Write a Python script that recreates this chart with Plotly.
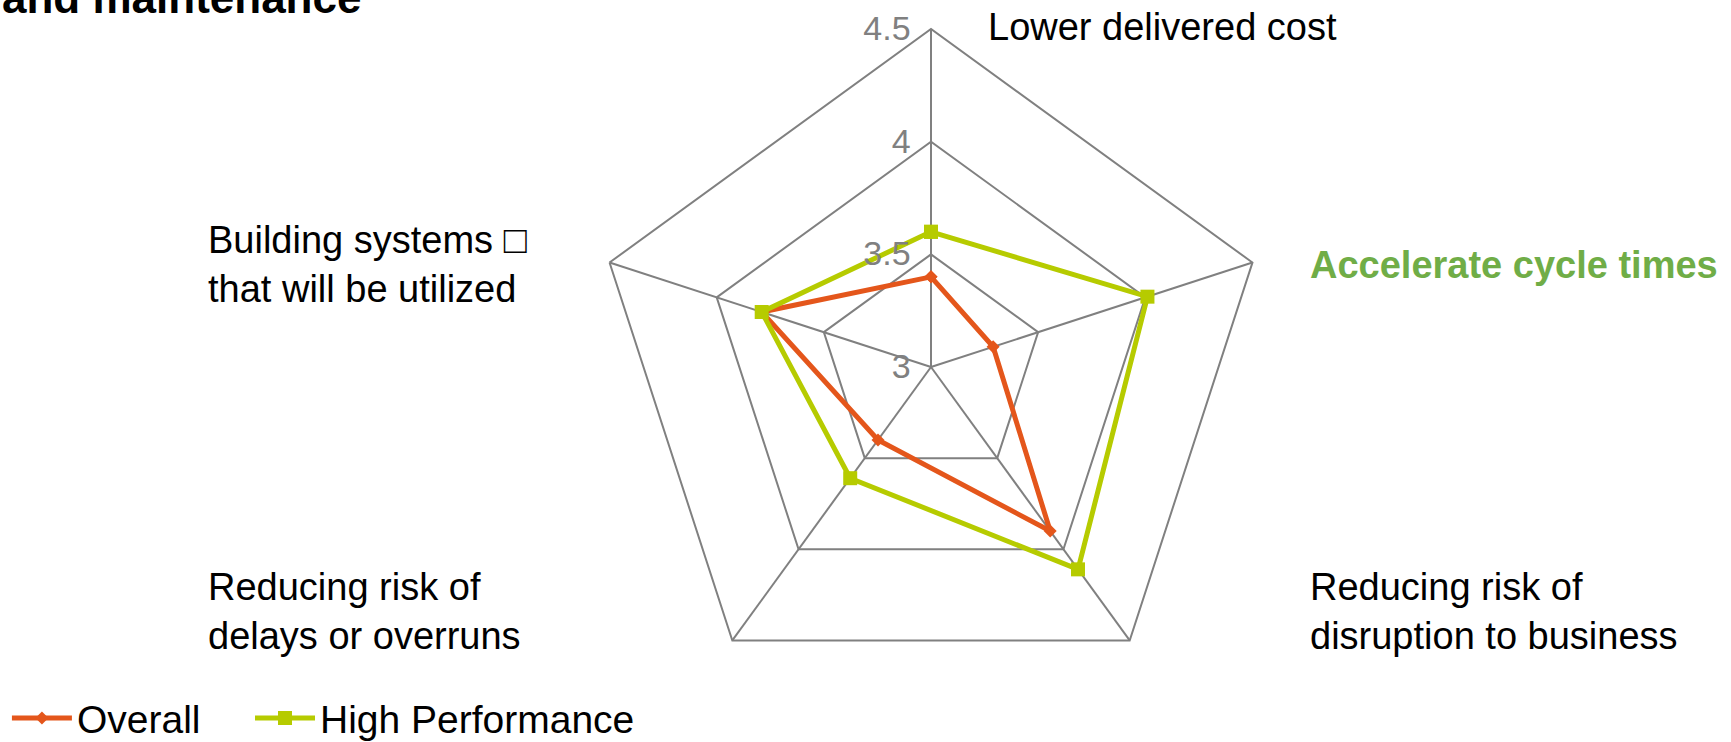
import plotly.graph_objects as go

categories = [
    "Lower delivered cost",
    "Accelerate cycle times",
    "Reducing risk of disruption to business",
    "Reducing risk of delays or overruns",
    "Building systems \u25a1 that will be utilized",
]
label_text = [
    "Lower delivered cost",
    "<b>Accelerate cycle times</b>",
    "Reducing risk of<br>disruption to business",
    "Reducing risk of<br>delays or overruns",
    "Building systems \u25a1<br>that will be utilized",
]
overall = [3.40, 3.29, 3.90, 3.40, 3.79]
high_perf = [3.60, 4.01, 4.11, 3.61, 3.79]
radial_ticks = [3, 3.5, 4, 4.5]
radial_ticktext = ["3", "3.5", "4", "4.5"]

ORANGE = "#E4561B"
GREEN = "#B6CB00"
GRID = "#808080"
FONT = "Liberation Sans, Arial, sans-serif"

W, H = 1731, 742

fig = go.Figure()
fig.add_trace(go.Scatterpolar(
    r=overall + overall[:1], theta=categories + categories[:1],
    name="Overall", mode="lines+markers", legend="legend",
    line=dict(color=ORANGE, width=5),
    marker=dict(symbol="diamond", size=10, color=ORANGE),
))
fig.add_trace(go.Scatterpolar(
    r=high_perf + high_perf[:1], theta=categories + categories[:1],
    name="High Performance", mode="lines+markers", legend="legend2",
    line=dict(color=GREEN, width=5),
    marker=dict(symbol="square", size=14, color=GREEN),
))

cx, cy, R = 931, 367, 338
legend_common = dict(orientation="h", y=-0.011, xanchor="left", yanchor="bottom",
                     itemwidth=60, font=dict(size=39, family=FONT),
                     bgcolor="rgba(0,0,0,0)")
fig.update_layout(
    width=W, height=H,
    margin=dict(l=0, r=0, t=0, b=0, autoexpand=False),
    paper_bgcolor="white",
    font=dict(family=FONT, color="black", size=38),
    polar=dict(
        domain=dict(x=[(cx - R) / W, (cx + R) / W], y=[1 - (cy + R) / H, 1 - (cy - R) / H]),
        bgcolor="white",
        gridshape="linear",
        radialaxis=dict(
            range=[3, 4.5], tickvals=radial_ticks, ticktext=radial_ticktext,
            angle=90, side="counterclockwise", tickangle=90,
            showline=False, ticks="outside", ticklen=8, tickcolor="rgba(0,0,0,0)",
            gridcolor=GRID, gridwidth=2,
            tickfont=dict(color=GRID, size=34, family=FONT),
        ),
        angularaxis=dict(
            rotation=90, direction="clockwise", showticklabels=False, ticks="",
            gridcolor=GRID, gridwidth=2, linecolor=GRID, linewidth=2, showline=True,
        ),
    ),
    legend=dict(x=0.004, **legend_common),
    legend2=dict(x=250 / W, **legend_common),
    showlegend=True,
)

label_pos = [(986, 27), (1308, 265), (1308, 611), (206, 611), (206, 264)]
for txt, (px, py) in zip(label_text, label_pos):
    color = "#70AD47" if "Accelerate" in txt else "black"
    fig.add_annotation(text=txt, x=px / W, y=1 - py / H, xref="paper", yref="paper",
                       xanchor="left", yanchor="middle", align="left", showarrow=False,
                       font=dict(size=38, color=color, family=FONT))

fig.add_annotation(text="<b>and maintenance</b>", x=0, y=1, xref="paper", yref="paper",
                   xanchor="left", yanchor="bottom", yshift=-24, showarrow=False,
                   font=dict(size=44, color="black", family=FONT))

fig.write_html("out.html")
